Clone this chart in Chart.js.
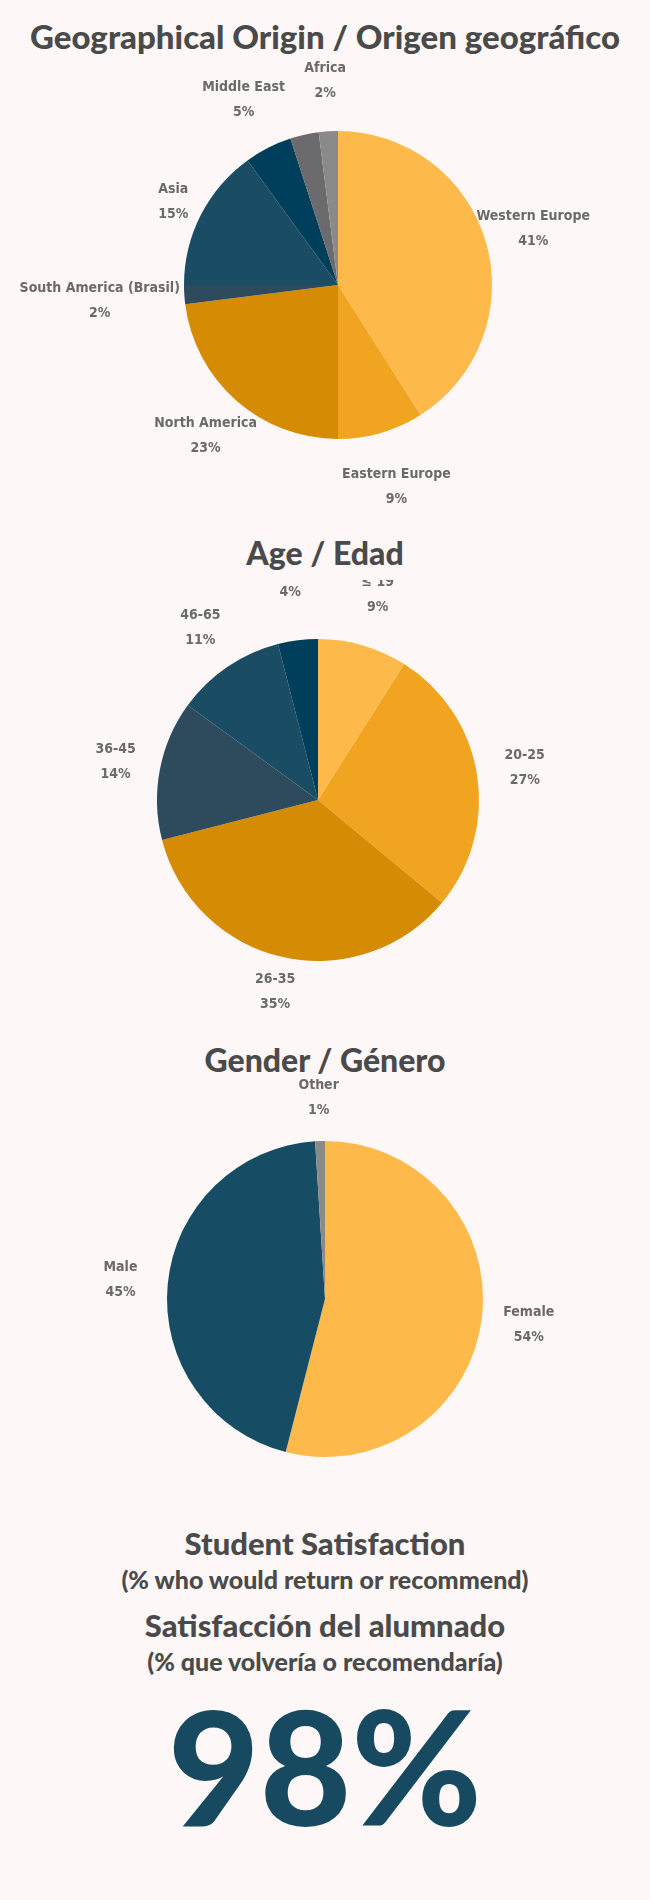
<!DOCTYPE html>
<html>
<head>
<meta charset="utf-8">
<script src="https://cdn.jsdelivr.net/npm/chart.js@4.4.0/dist/chart.umd.min.js"></script>
<style>
  body { margin: 0; background: #fdf8f7; width: 650px; height: 1900px; position: relative; font-family: Lato, "Open Sans", sans-serif; }
  .t { position: absolute; left: 0; width: 650px; text-align: center; color: #4a4a4a; font-weight: 900; }
  canvas { position: absolute; left: 0; }
</style>
</head>
<body>
<div class="t" style="top:16px;font-size:33px;">Geographical Origin / Origen geográfico</div>
<canvas id="c1" width="650" height="450" style="top:60px"></canvas>
<div class="t" style="top:533px;font-size:32px;">Age / Edad</div>
<canvas id="c2" width="650" height="440" style="top:580px"></canvas>
<div class="t" style="top:1040px;font-size:32px;">Gender / Género</div>
<canvas id="c3" width="650" height="440" style="top:1079px"></canvas>
<div class="t" style="top:1524px;font-size:31px;">Student Satisfaction</div>
<div class="t" style="top:1564px;font-size:25px;">(% who would return or recommend)</div>
<div class="t" style="top:1606px;font-size:31px;">Satisfacción del alumnado</div>
<div class="t" style="top:1646px;font-size:25px;">(% que volvería o recomendaría)</div>
<div class="t" style="top:1670px;font-size:158px;color:#174a60;">98%</div>
<script>
// Geographical origin
const geoLabels = ['Western Europe', 'Eastern Europe', 'North America', 'South America (Brasil)', 'Asia', 'Middle East', '', 'Africa'];
const geoValues = [41, 9, 23, 2, 15, 5, 3, 2];
const geoColors = ['#fdba4a', '#f0a41f', '#d58b04', '#2d4b5c', '#1a4c63', '#003f5c', '#6b6b6d', '#8b8a8b'];

// Age
const ageLabels = ['≤ 19', '20-25', '26-35', '36-45', '46-65', '65 +'];
const ageValues = [9, 27, 35, 14, 11, 4];
const ageColors = ['#fdba4a', '#f0a41f', '#d58b04', '#2d4b5c', '#1a4c63', '#003f5c'];

// Gender
const genderLabels = ['Female', 'Male', 'Other'];
const genderValues = [54, 45, 1];
const genderColors = ['#fdba4a', '#174d64', '#8b8a8b'];

const outsideLabels = {
    id: 'outsideLabels',
    afterDatasetsDraw(chart, args, opts) {
        const ctx = chart.ctx;
        const meta = chart.getDatasetMeta(0);
        const values = chart.data.datasets[0].data;
        ctx.save();
        ctx.fillStyle = '#6a6a6a';
        ctx.font = 'bold 14px "DejaVu Sans Condensed", "DejaVu Sans", sans-serif';
        ctx.textAlign = 'center';
        ctx.textBaseline = 'middle';
        meta.data.forEach((arc, i) => {
            const name = chart.data.labels[i];
            if (!name) return;
            const mid = (arc.startAngle + arc.endAngle) / 2;
            const f = (opts.factors && opts.factors[i]) || 1.28;
            const x = arc.x + Math.cos(mid) * arc.outerRadius * f;
            const y = arc.y + Math.sin(mid) * arc.outerRadius * f;
            ctx.fillText(name, x, y - 12);
            ctx.fillText(values[i] + '%', x, y + 13);
        });
        ctx.restore();
    }
};

function makePie(id, labels, values, colors, radius, padding, factors) {
    return new Chart(document.getElementById(id), {
        type: 'pie',
        data: { labels: labels, datasets: [{ data: values, backgroundColor: colors, borderWidth: 0 }] },
        options: {
            responsive: false,
            animation: false,
            radius: radius,
            layout: { padding: padding },
            plugins: { legend: { display: false }, tooltip: { enabled: false }, outsideLabels: { factors: factors } }
        },
        plugins: [outsideLabels]
    });
}

makePie('c1', geoLabels, geoValues, geoColors, 154, { left: 26 }, [1.32, 1.36, 1.3, 1.55, 1.2, 1.35, 1, 1.33]);
makePie('c2', ageLabels, ageValues, ageColors, 161, { right: 14 }, [1.33, 1.3, 1.22, 1.28, 1.3, 1.38]);
makePie('c3', genderLabels, genderValues, genderColors, 158, {}, [1.3, 1.3, 1.28]);
</script>
</body>
</html>
